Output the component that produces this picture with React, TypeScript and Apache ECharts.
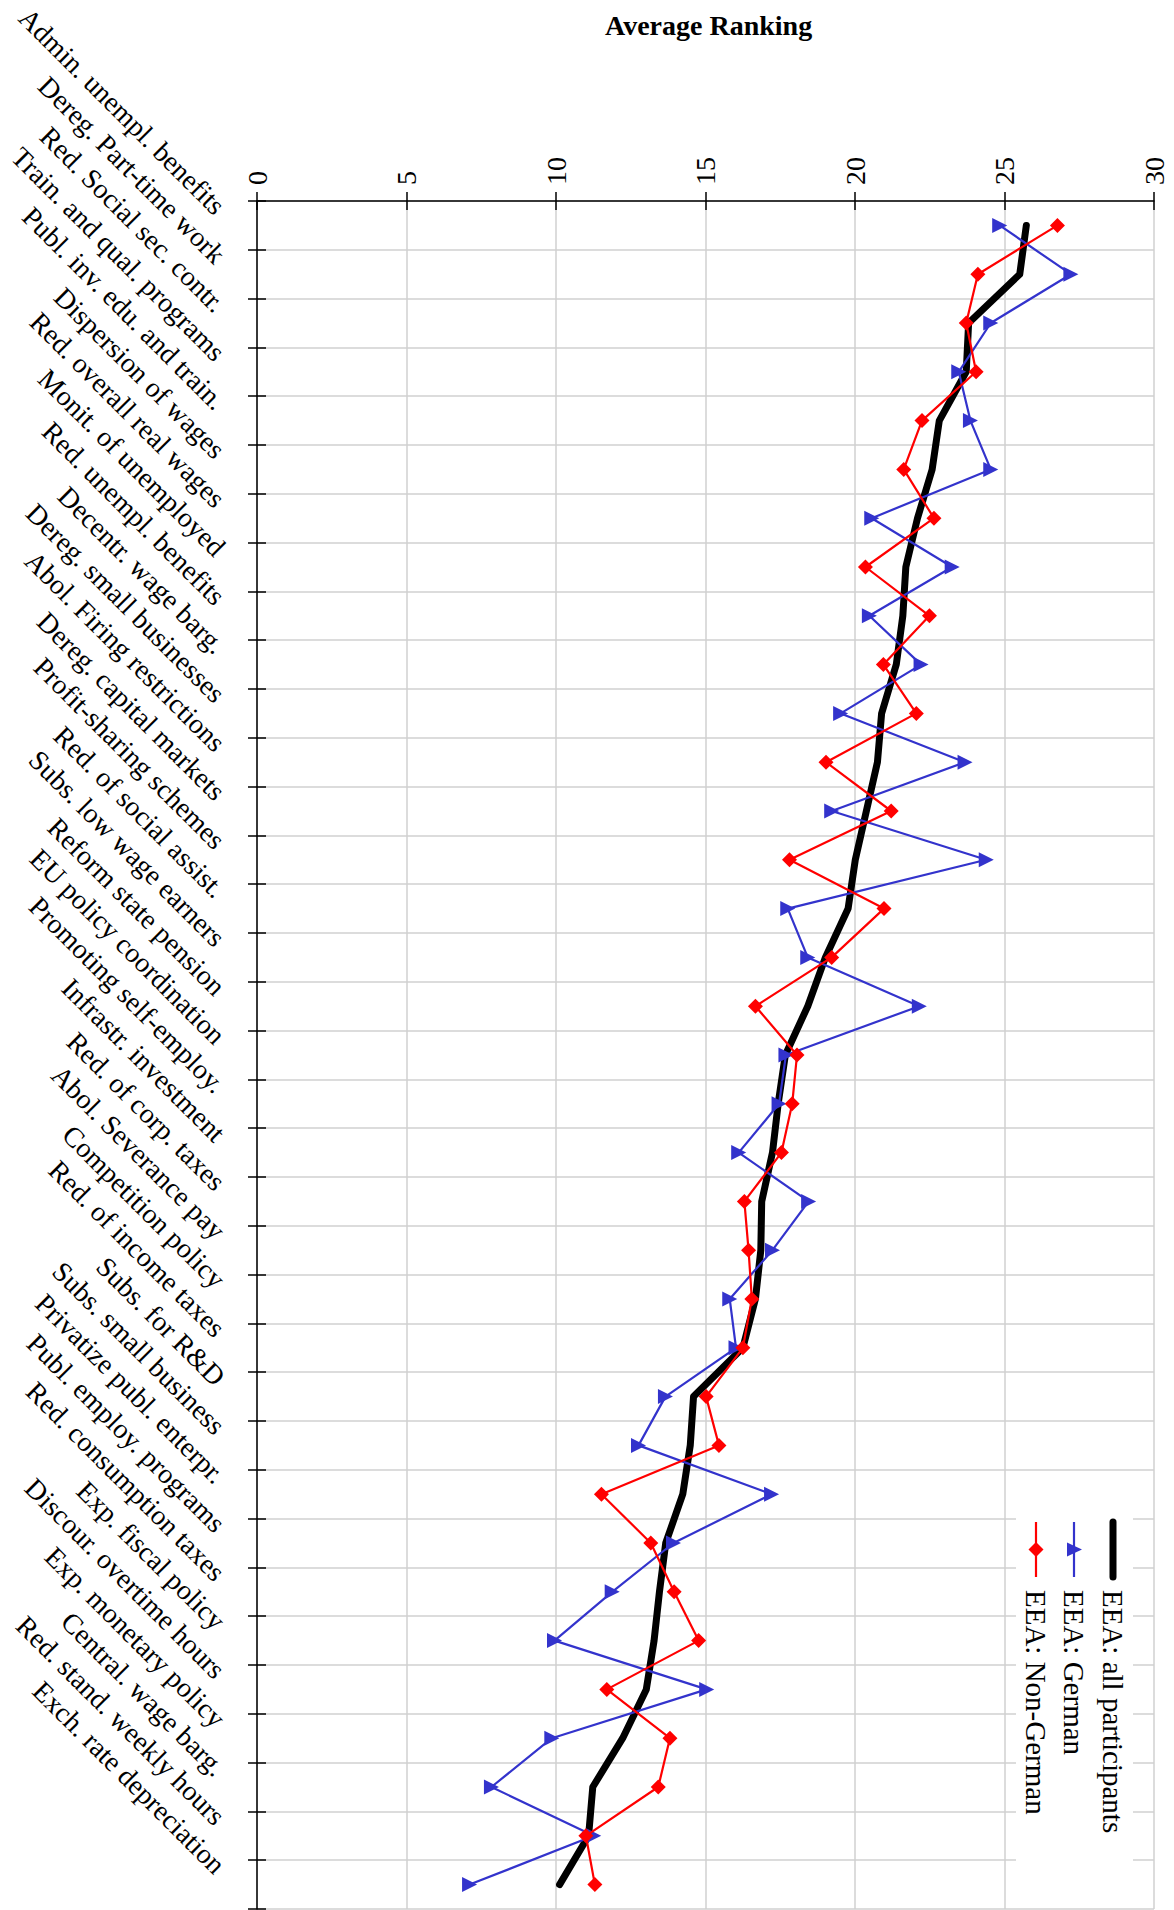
import React, { useEffect, useRef } from "react";
import * as echarts from "echarts";

const categories = [
  "Admin. unempl. benefits",
  "Dereg. Part-time work",
  "Red. Social sec. contr.",
  "Train. and qual. programs",
  "Publ. inv. edu. and train.",
  "Dispersion of wages",
  "Red. overall real wages",
  "Monit. of unemployed",
  "Red. unempl. benefits",
  "Decentr. wage barg.",
  "Dereg. small businesses",
  "Abol. Firing restrictions",
  "Dereg. capital markets",
  "Profit-sharing schemes",
  "Red. of social assist.",
  "Subs. low wage earners",
  "Reform state pension",
  "EU policy coordination",
  "Promoting self-employ.",
  "Infrastr. investment",
  "Red. of corp. taxes",
  "Abol. Severance pay",
  "Competition policy",
  "Red. of income taxes",
  "Subs. for R&D",
  "Subs. small business",
  "Privatize publ. enterpr.",
  "Publ. employ. programs",
  "Red. consumption taxes",
  "Exp. fiscal policy",
  "Discour. overtime hours",
  "Exp. monetary policy",
  "Central. wage barg.",
  "Red. stand. weekly hours",
  "Exch. rate depreciation",
];

const allParticipants = [
  25.73, 25.51, 23.8, 23.72, 22.82, 22.58, 22.09, 21.7, 21.6, 21.38,
  20.89, 20.75, 20.38, 20.01, 19.77, 19.01, 18.42, 17.67, 17.43, 17.24,
  16.88, 16.85, 16.67, 16.25, 14.6, 14.49, 14.24, 13.67, 13.46, 13.28,
  13.02, 12.23, 11.23, 11.09, 10.12,
];

const german = [
  24.84, 27.22, 24.54, 23.47, 23.86, 24.54, 20.56, 23.25, 20.48, 22.21,
  19.52, 23.68, 19.22, 24.39, 17.75, 18.42, 22.15, 17.69, 17.46, 16.11,
  18.45, 17.24, 15.81, 16.02, 13.66, 12.76, 17.21, 13.93, 11.88, 9.95,
  15.04, 9.86, 7.84, 11.26, 7.11,
];

const nonGerman = [
  26.77, 24.11, 23.72, 24.05, 22.24, 21.63, 22.64, 20.35, 22.49, 20.95,
  22.05, 19.03, 21.21, 17.81, 20.97, 19.22, 16.67, 18.06, 17.9, 17.54,
  16.3, 16.44, 16.55, 16.25, 15.02, 15.45, 11.52, 13.17, 13.95, 14.77,
  11.7, 13.81, 13.42, 11.0, 11.3,
];

const seriesNames = ["EEA: all participants", "EEA: German", "EEA: Non-German"];
const valueMin = 0;
const valueMax = 30;
const valueInterval = 5;

const FONT = "'Liberation Serif', 'Times New Roman', Times, serif";
const BLUE = "#3333CC";
const RED = "#FF0000";
const GRID_COLOR = "#d0d0d0";
const TRI = "path://M0,0L10,5L0,10Z";
const DIA = "path://M5,0L10,5L5,10L0,5Z";

export default function App() {
  const ref = useRef<HTMLDivElement>(null);

  useEffect(() => {
    document.body.style.margin = "0";
    const chart = echarts.init(ref.current as HTMLDivElement, null, { renderer: "svg" });

    const legendTop = 1522;
    const legendBottom = 1577;
    const legendMid = (legendTop + legendBottom) / 2;
    const legendTextY = 1590;
    const legendX = [1113, 1074, 1036];

    const option: any = {
      animation: false,
      backgroundColor: "#ffffff",
      textStyle: { fontFamily: FONT },
      title: {
        text: "Average Ranking",
        left: 600,
        top: 6,
        textStyle: { fontFamily: FONT, fontSize: 28, fontWeight: "bold", color: "#000" },
      },
      grid: {
        left: 257,
        top: 201,
        right: 20,
        bottom: 1,
        containLabel: false,
        outerBoundsMode: "none",
      },
      xAxis: [
        {
          type: "value",
          position: "top",
          min: valueMin,
          max: valueMax,
          interval: valueInterval,
          axisLine: { show: true, lineStyle: { color: "#000", width: 1.5 } },
          axisTick: { show: true, length: 9, lineStyle: { color: "#000", width: 1.5 } },
          axisLabel: {
            rotate: -90,
            margin: 16,
            fontSize: 28,
            fontFamily: FONT,
            color: "#000",
          },
          splitLine: { show: true, lineStyle: { color: GRID_COLOR, width: 1.5 } },
        },
        {
          type: "value",
          position: "top",
          min: valueMin,
          max: valueMax,
          interval: valueInterval,
          axisLine: { show: false },
          axisTick: { show: true, inside: true, length: 9, lineStyle: { color: "#000", width: 1.5 } },
          axisLabel: { show: false },
          splitLine: { show: false },
        },
      ],
      yAxis: [
        {
          type: "category",
          data: categories,
          inverse: true,
          boundaryGap: true,
          axisLine: { show: true, lineStyle: { color: "#000", width: 1.5 } },
          axisTick: { show: true, length: 9, lineStyle: { color: "#000", width: 1.5 } },
          axisLabel: {
            interval: 0,
            rotate: -45,
            margin: 52,
            fontSize: 28,
            fontFamily: FONT,
            color: "#000",
            verticalAlign: "bottom",
            padding: [0, 0, 8, 0],
          },
          splitLine: { show: true, lineStyle: { color: GRID_COLOR, width: 1.5 } },
        },
        {
          type: "category",
          data: categories,
          inverse: true,
          boundaryGap: true,
          position: "left",
          axisLine: { show: false },
          axisTick: { show: true, inside: true, length: 9, lineStyle: { color: "#000", width: 1.5 } },
          axisLabel: { show: false },
          splitLine: { show: false },
        },
      ],
      series: [
        {
          name: seriesNames[0],
          type: "line",
          data: allParticipants,
          xAxisIndex: 0,
          yAxisIndex: 0,
          symbol: "none",
          lineStyle: { color: "#000", width: 7, cap: "round", join: "round" },
          itemStyle: { color: "#000" },
          z: 2,
        },
        {
          name: seriesNames[1],
          type: "line",
          data: german,
          xAxisIndex: 0,
          yAxisIndex: 0,
          symbol: TRI,
          symbolSize: 15,
          lineStyle: { color: BLUE, width: 2.2 },
          itemStyle: { color: BLUE },
          z: 3,
        },
        {
          name: seriesNames[2],
          type: "line",
          data: nonGerman,
          xAxisIndex: 0,
          yAxisIndex: 0,
          symbol: DIA,
          symbolSize: 15,
          lineStyle: { color: RED, width: 2.2 },
          itemStyle: { color: RED },
          z: 4,
        },
      ],
      graphic: [
        {
          type: "rect",
          z: 10,
          shape: { x: 1016, y: 1512, width: 117, height: 358 },
          style: { fill: "#ffffff" },
        },
        {
          type: "line",
          z: 11,
          shape: { x1: legendX[0], y1: legendTop, x2: legendX[0], y2: legendBottom },
          style: { stroke: "#000", lineWidth: 7, lineCap: "round" },
        },
        {
          type: "line",
          z: 11,
          shape: { x1: legendX[1], y1: legendTop, x2: legendX[1], y2: legendBottom },
          style: { stroke: BLUE, lineWidth: 2.2 },
        },
        {
          type: "polygon",
          z: 12,
          shape: {
            points: [
              [legendX[1] - 7, legendMid - 7],
              [legendX[1] + 8, legendMid],
              [legendX[1] - 7, legendMid + 7],
            ],
          },
          style: { fill: BLUE },
        },
        {
          type: "line",
          z: 11,
          shape: { x1: legendX[2], y1: legendTop, x2: legendX[2], y2: legendBottom },
          style: { stroke: RED, lineWidth: 2.2 },
        },
        {
          type: "polygon",
          z: 12,
          shape: {
            points: [
              [legendX[2], legendMid - 7.5],
              [legendX[2] + 7.5, legendMid],
              [legendX[2], legendMid + 7.5],
              [legendX[2] - 7.5, legendMid],
            ],
          },
          style: { fill: RED },
        },
        ...seriesNames.map((name, i) => ({
          type: "text",
          z: 12,
          x: legendX[i],
          y: legendTextY,
          rotation: -Math.PI / 2,
          style: {
            text: name,
            fontFamily: FONT,
            fontSize: 29,
            fill: "#000",
            align: "left",
            verticalAlign: "middle",
          },
        })),
      ],
    };

    chart.setOption(option);
    return () => chart.dispose();
  }, []);

  return <div ref={ref} style={{ width: 1174, height: 1910 }} />;
}
